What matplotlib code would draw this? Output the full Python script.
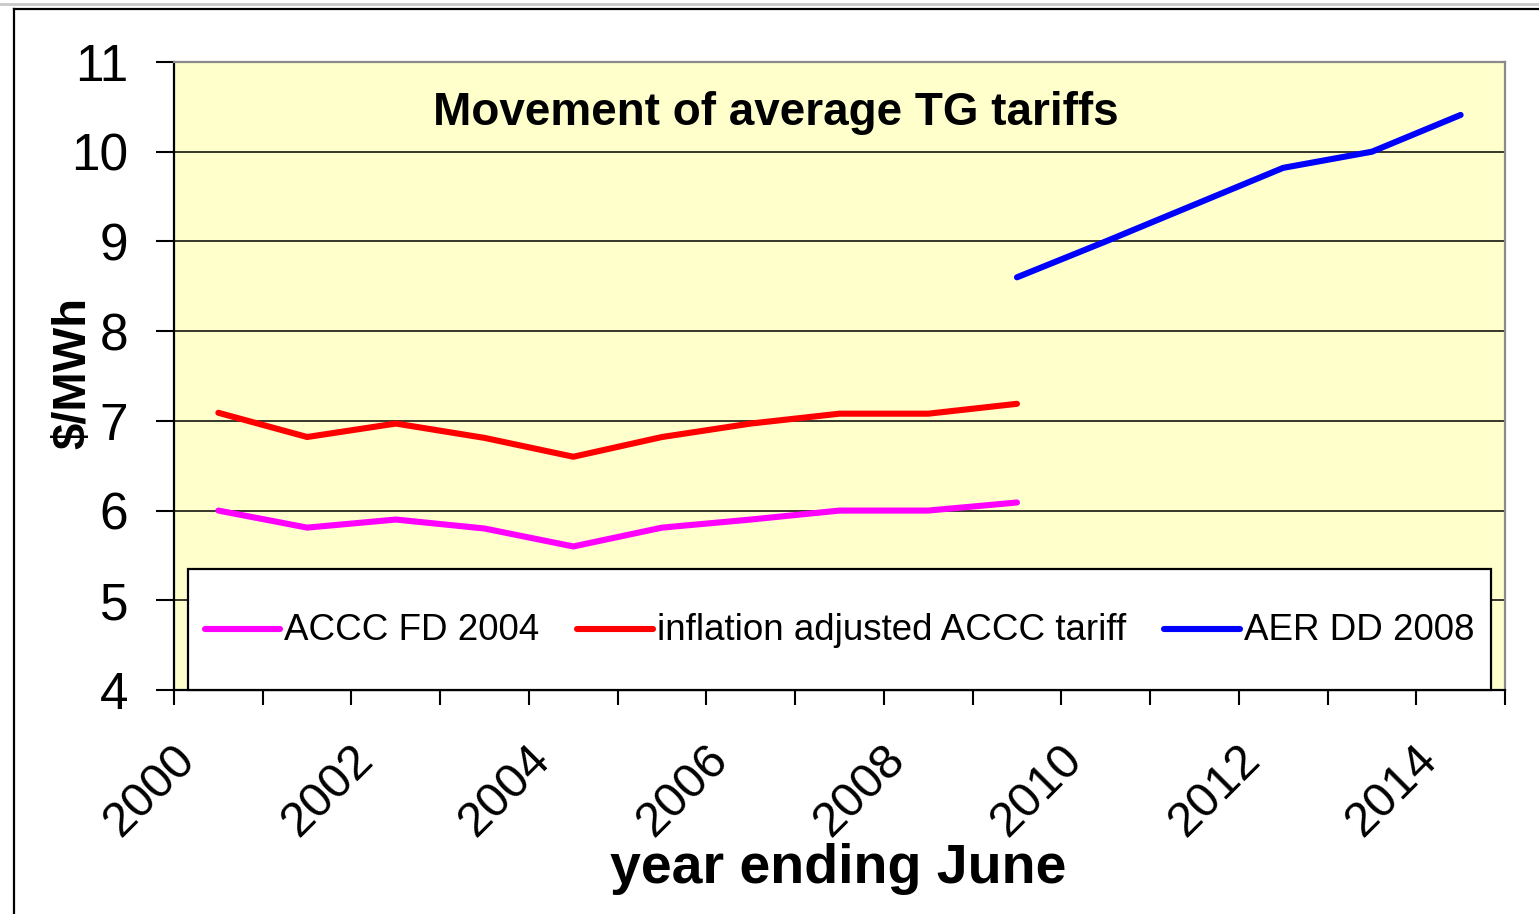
import numpy as np
import matplotlib
matplotlib.use("Agg")
import matplotlib.pyplot as plt
from matplotlib.lines import Line2D
from matplotlib.transforms import ScaledTranslation

plt.rcParams['font.family'] = ['Liberation Sans', 'DejaVu Sans']

years = list(range(2000, 2015))
accc_fd_2004 = [6.0, 5.81, 5.9, 5.8, 5.6, 5.81, 5.9, 6.0, 6.0, 6.09,
                np.nan, np.nan, np.nan, np.nan, np.nan]
inflation_adj = [7.09, 6.82, 6.97, 6.81, 6.6, 6.82, 6.97, 7.08, 7.08, 7.19,
                 np.nan, np.nan, np.nan, np.nan, np.nan]
aer_dd_2008 = [np.nan] * 9 + [8.6, 9.0, 9.41, 9.82, 10.0, 10.41]
series_labels = ["ACCC FD 2004", "inflation adjusted ACCC tariff", "AER DD 2008"]
series_colors = ["#FF00FF", "#FF0000", "#0000FF"]
yticks = [4, 5, 6, 7, 8, 9, 10, 11]
xtick_years = years[::2]

W, H = 1539, 914
fig = plt.figure(figsize=(W / 100, H / 100), dpi=100)
fig.patch.set_facecolor("white")

L, R, T, B = 174, 1505, 62, 690
ax = fig.add_axes([L / W, 1 - B / H, (R - L) / W, (B - T) / H])
ax.set_facecolor("#FFFFCC")

x = np.arange(len(years))
for vals, lab, col in zip([accc_fd_2004, inflation_adj, aer_dd_2008], series_labels, series_colors):
    ax.plot(x, vals, color=col, lw=4.4, label=lab, solid_capstyle="round", solid_joinstyle="round", zorder=3)

ax.set_xlim(-0.5, len(years) - 0.5)
ax.set_ylim(4, 11)
ax.set_yticks(yticks)
ax.set_yticklabels([str(v) for v in yticks])
ax.yaxis.grid(True, color="black", lw=1.1)
ax.set_axisbelow(True)

# major ticks at category boundaries, no labels
ax.set_xticks(np.arange(-0.5, len(years), 1.0))
ax.set_xticklabels([])
ax.tick_params(axis="x", which="major", direction="out", length=11, width=1.5, color="black")
# minor ticks at category centres carry the labels
ax.set_xticks([years.index(y) for y in xtick_years], minor=True)
ax.set_xticklabels([str(y) for y in xtick_years], minor=True, rotation=45,
                   ha="right", va="center", rotation_mode="anchor", fontsize=35)
ax.tick_params(axis="x", which="minor", length=0, pad=45)
for lbl in ax.get_xticklabels(minor=True):
    lbl.set_transform(lbl.get_transform() + ScaledTranslation(-0.30, 0, fig.dpi_scale_trans))

ax.tick_params(axis="y", direction="out", length=13, width=1.5, pad=20, labelsize=37)

for s in ["left", "bottom"]:
    ax.spines[s].set_color("black")
    ax.spines[s].set_linewidth(1.6)
for s in ["top", "right"]:
    ax.spines[s].set_color("#8a8a8a")
    ax.spines[s].set_linewidth(1.6)

ax.text(0.452, 0.919, "Movement of average TG tariffs", transform=ax.transAxes,
        ha="center", va="center", fontsize=33, fontweight="bold")

leg = ax.legend(loc="lower left", bbox_to_anchor=((188 - L) / (R - L), 0, (1491 - 188) / (R - L), 0.2),
                mode="expand", ncol=3, fontsize=26.5, frameon=True, fancybox=False,
                borderaxespad=0, borderpad=0.45, handlelength=2.05, handletextpad=0.12,
                handleheight=3.3, columnspacing=0.9)
leg.get_frame().set_edgecolor("black")
leg.get_frame().set_linewidth(1.6)
leg.get_frame().set_facecolor("white")
leg.get_frame().set_alpha(1)
for hl in leg.get_lines():
    hl.set_transform(hl.get_transform() + ScaledTranslation(0, -0.16, fig.dpi_scale_trans))

fig.text(838 / W, 1 - 869 / H, "year ending June", ha="center", va="center",
         fontsize=40, fontweight="bold")
fig.text(73 / W, 1 - 373 / H, "$/MWh", ha="center", va="center", rotation=90,
         fontsize=34, fontweight="bold")

# outer chart border
fig.add_artist(Line2D([14 / W, 14 / W], [0, 1 - 9 / H], transform=fig.transFigure, color="black", lw=1.6))
fig.add_artist(Line2D([14 / W, 1], [1 - 9 / H, 1 - 9 / H], transform=fig.transFigure, color="black", lw=1.6))
fig.add_artist(Line2D([0, 1], [1 - 4 / H, 1 - 4 / H], transform=fig.transFigure, color="#c8c8c8", lw=2))

fig.savefig("out.png", dpi=100)
